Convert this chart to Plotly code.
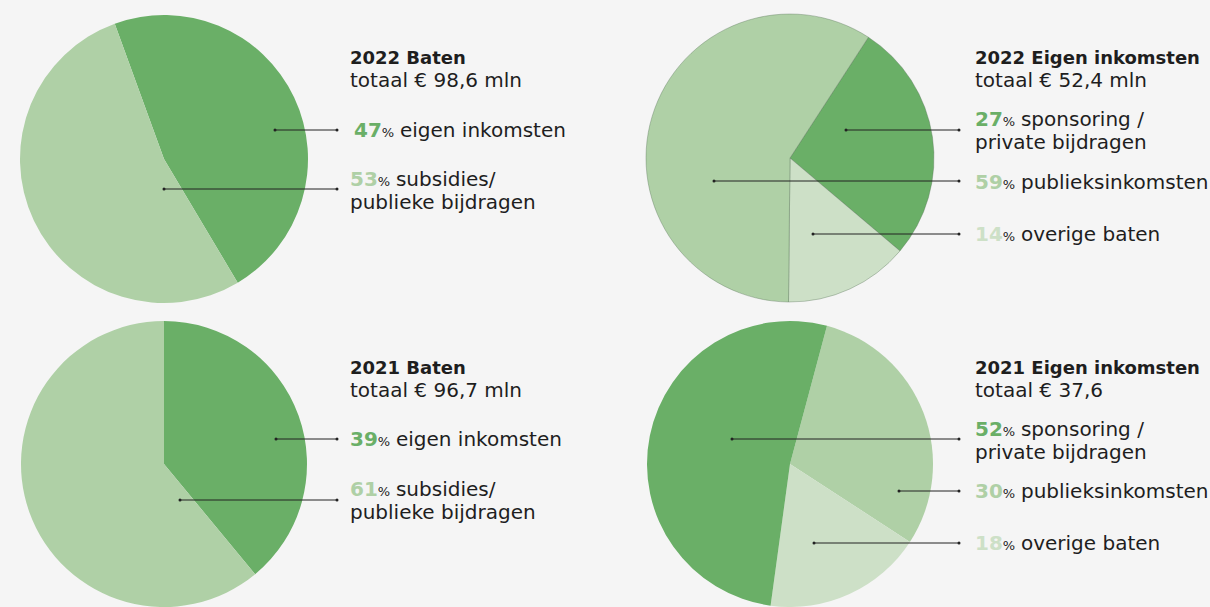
import plotly.graph_objects as go

W, H = 1210, 607
BG = "#f5f5f5"
DARK = "#6aaf67"
MID = "#afd0a6"
LIGHT = "#cde0c7"
TXT = "#1e1e1e"
FONT = "DejaVu Sans"

# ---- data ----
baten_labels = ["eigen inkomsten", "subsidies/ publieke bijdragen"]
baten_2022 = [47, 53]
baten_2021 = [39, 61]
eigen_labels = ["sponsoring / private bijdragen", "overige baten", "publieksinkomsten"]
eigen_2022 = [27, 14, 59]
eigen_labels_2021 = ["publieksinkomsten", "overige baten", "sponsoring / private bijdragen"]
eigen_2021 = [30, 18, 52]
titles = ["2022 Baten", "2022 Eigen inkomsten", "2021 Baten", "2021 Eigen inkomsten"]
totals = ["totaal € 98,6 mln", "totaal € 52,4 mln", "totaal € 96,7 mln", "totaal € 37,6"]

fig = go.Figure()


def px(x):
    return x / W


def py(y):
    return 1 - y / H


def dom(cx, cy, r):
    return dict(x=[px(cx - r), px(cx + r)], y=[py(cy + r), py(cy - r)])


pies = [
    (baten_labels, baten_2022, [DARK, MID], 340, (164, 159, 144), 0),
    (eigen_labels, eigen_2022, [DARK, LIGHT, MID], 33, (790, 158, 144), 0.6),
    (baten_labels, baten_2021, [DARK, MID], 0, (164, 464, 143), 0),
    (eigen_labels_2021, eigen_2021, [MID, LIGHT, DARK], 15, (790, 464, 143), 0),
]
for labels, vals, cols, rot, (cx, cy, r), lw in pies:
    fig.add_trace(go.Pie(
        labels=labels, values=vals, sort=False, direction="clockwise", rotation=rot,
        marker=dict(colors=cols, line=dict(width=lw, color="rgba(80,110,80,0.6)")),
        textinfo="none", hoverinfo="label+percent", showlegend=False,
        domain=dom(cx, cy, r),
    ))

leaders = [
    (275, 337, 130), (164, 337, 189),
    (846, 959, 130), (714, 959, 181), (813, 959, 234),
    (276, 337, 439), (180, 337, 500),
    (732, 959, 439), (899, 959, 491), (814, 959, 543),
]
shapes = []
for x0, x1, y in leaders:
    shapes.append(dict(type="line", xref="paper", yref="paper", layer="above",
                       x0=px(x0), x1=px(x1), y0=py(y), y1=py(y),
                       line=dict(color="#222", width=1)))
    for xe in (x0, x1):
        shapes.append(dict(type="circle", xref="paper", yref="paper", layer="above",
                           x0=px(xe - 1.5), x1=px(xe + 1.5), y0=py(y + 1.5), y1=py(y - 1.5),
                           fillcolor="#222", line=dict(width=0)))


def reg(s):
    return f'<span style="font-size:20px">{s}</span>'


def pct(v, c):
    return (f'<span style="font-size:20px"><b><span style="color:{c}">{v}</span></b></span>'
            f'<span style="font-size:13px">%</span> ')


def head(title, total):
    return f"<b>{title}</b><br>{reg(total)}"


texts = []
texts += [(350, 69, head(titles[0], totals[0])),
          (354, 130, pct(baten_2022[0], DARK) + reg("eigen inkomsten")),
          (350, 190, pct(baten_2022[1], MID) + reg("subsidies/") + "<br>" + reg("publieke bijdragen"))]
texts += [(975, 69, head(titles[1], totals[1])),
          (975, 130, pct(eigen_2022[0], DARK) + reg("sponsoring /") + "<br>" + reg("private bijdragen")),
          (975, 182, pct(eigen_2022[2], MID) + reg("publieksinkomsten")),
          (975, 234, pct(eigen_2022[1], LIGHT) + reg("overige baten"))]
texts += [(350, 379, head(titles[2], totals[2])),
          (350, 439, pct(baten_2021[0], DARK) + reg("eigen inkomsten")),
          (350, 500, pct(baten_2021[1], MID) + reg("subsidies/") + "<br>" + reg("publieke bijdragen"))]
texts += [(975, 379, head(titles[3], totals[3])),
          (975, 440, pct(eigen_2021[2], DARK) + reg("sponsoring /") + "<br>" + reg("private bijdragen")),
          (975, 491, pct(eigen_2021[0], MID) + reg("publieksinkomsten")),
          (975, 543, pct(eigen_2021[1], LIGHT) + reg("overige baten"))]

for x, y, t in texts:
    fig.add_annotation(x=px(x - 2), y=py(y), xref="paper", yref="paper", text=t, showarrow=False,
                       xanchor="left", yanchor="middle", align="left",
                       font=dict(family=FONT, size=18, color=TXT))

fig.update_layout(
    width=W, height=H, margin=dict(l=0, r=0, t=0, b=0),
    paper_bgcolor=BG, plot_bgcolor=BG, shapes=shapes,
    font=dict(family=FONT, color=TXT),
)

fig.write_html("out.html", config={"displayModeBar": False},
               post_script="document.body.style.margin='0';document.body.style.background='%s';" % BG)
